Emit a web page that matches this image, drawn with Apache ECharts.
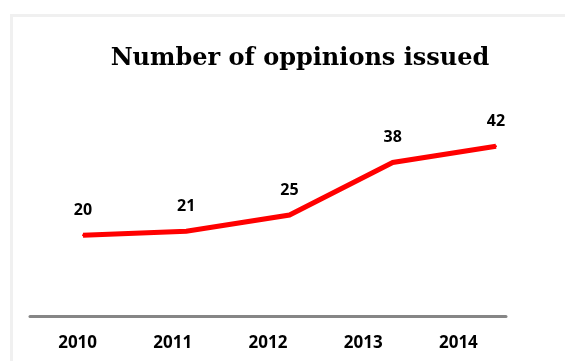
<!DOCTYPE html>
<html>
<head>
<meta charset="utf-8">
<script src="https://cdn.jsdelivr.net/npm/echarts@6/dist/echarts.min.js"></script>
<style>
  html, body { margin: 0; padding: 0; background: #ffffff; }
  #chart { width: 565px; height: 361px; }
</style>
</head>
<body>
<div id="chart"></div>
<script>
// Opinions issued per year
const years = ['2010', '2011', '2012', '2013', '2014'];
const opinions = [20, 21, 25, 38, 42];
const titleText = 'Number of oppinions issued';

const chart = echarts.init(document.getElementById('chart'), null, { renderer: 'canvas' });

const labelFont = '"Open Sans", "DejaVu Sans", sans-serif';

chart.setOption({
  backgroundColor: '#ffffff',
  animation: false,
  title: {
    text: titleText,
    left: 295,
    top: 42,
    textAlign: 'center',
    textStyle: {
      fontFamily: '"DejaVu Serif", "Liberation Serif", serif',
      fontWeight: 'bold',
      fontSize: 24,
      color: '#000000'
    }
  },
  graphic: [{
    type: 'rect',
    shape: { x: 11.5, y: 15.5, width: 570, height: 360 },
    style: { fill: 'none', stroke: '#f0f0f0', lineWidth: 3 },
    silent: true
  }],
  grid: [
    // category axis band
    { left: 30, right: 59, top: 114, bottom: 45 },
    // plotting area for the line
    { left: 83, right: 69, top: 114, bottom: 45 }
  ],
  xAxis: [
    {
      gridIndex: 0,
      type: 'category',
      data: years,
      boundaryGap: true,
      axisLine: { show: true, lineStyle: { color: '#868686', width: 3 } },
      axisTick: { show: false },
      axisLabel: {
        margin: 19,
        fontFamily: labelFont,
        fontWeight: 'bold',
        fontSize: 17,
        color: '#000000'
      },
      splitLine: { show: false }
    },
    {
      gridIndex: 1,
      type: 'category',
      data: years,
      boundaryGap: false,
      show: false
    }
  ],
  yAxis: [
    { gridIndex: 0, type: 'value', min: 0, max: 50, show: false },
    { gridIndex: 1, type: 'value', min: 0, max: 50, show: false }
  ],
  series: [{
    type: 'line',
    xAxisIndex: 1,
    yAxisIndex: 1,
    data: opinions,
    symbol: 'circle',
    symbolSize: 2,
    showSymbol: true,
    itemStyle: { color: '#ff0000' },
    lineStyle: { color: '#ff0000', width: 5, cap: 'butt', join: 'miter' },
    label: {
      show: true,
      position: 'top',
      distance: 16,
      fontFamily: labelFont,
      fontWeight: 'bold',
      fontSize: 16,
      color: '#000000'
    }
  }]
});
</script>
</body>
</html>
